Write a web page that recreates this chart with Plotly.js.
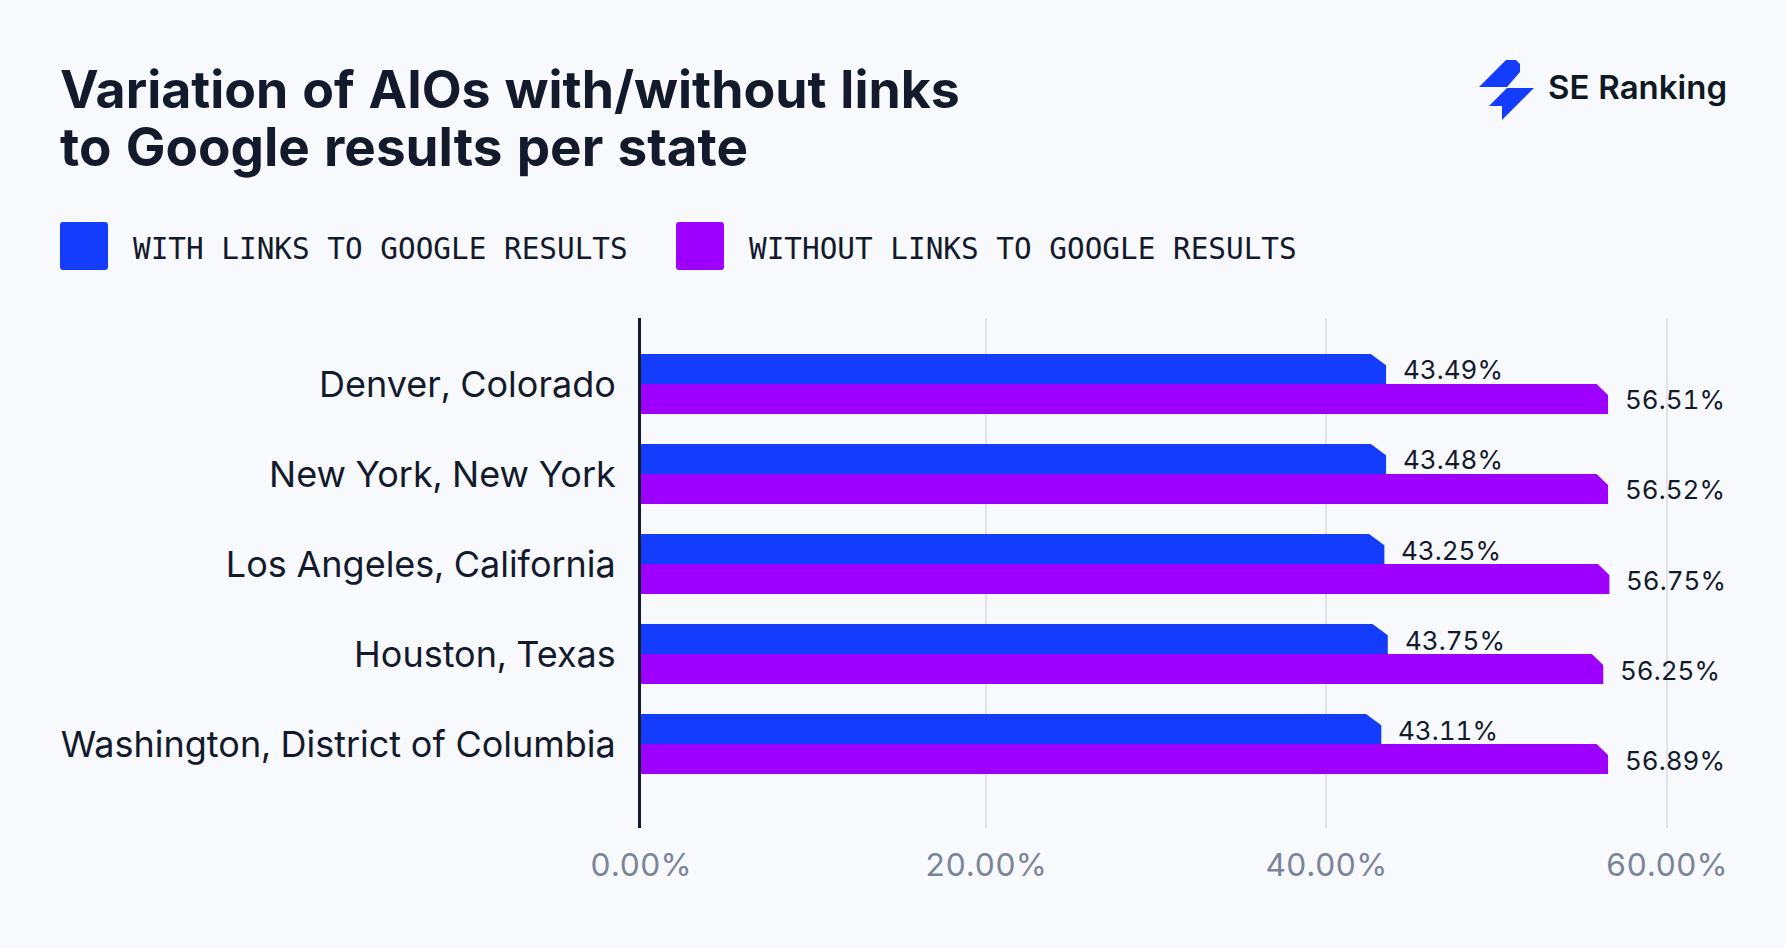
<!DOCTYPE html>
<html><head><meta charset="utf-8">
<script src="https://cdn.plot.ly/plotly-3.0.1.min.js"></script>
<style>html,body{margin:0;padding:0;background:#f7f9fd;overflow:hidden}
svg text{font-feature-settings:"tnum" 1;font-variant-numeric:tabular-nums}</style></head>
<body><div id="chart" style="width:1785px;height:948px"></div>
<script>
const categories = ["Denver, Colorado","New York, New York","Los Angeles, California","Houston, Texas","Washington, District of Columbia"];
// Percentages as printed next to the bars.
const withLinksLabels = [43.49,43.48,43.25,43.75,43.11];
const withoutLinksLabels = [56.51,56.52,56.75,56.25,56.89];
// Bar lengths: the source draws them slightly off their printed labels.
const withLinks = [43.51,43.51,43.41,43.61,43.23];
const withoutLinks = [56.55,56.55,56.63,56.27,56.55];
const tickVals = [-0.264,20,40,60];
const tickText = ["0.00%","20.00%","40.00%","60.00%"];
const BLUE="#143cfc", PURPLE="#9d00ff", BG="#f7f9fd", INK="#131a2b", FONT="Inter";
const W=1785,H=948,L=641,R=1670,T=318,B=828;
const px=x=>(x-L)/(R-L), py=y=>(B-y)/(B-T);
const P=(x,y)=>px(x).toFixed(5)+","+py(y).toFixed(5);
const shapes=[], annotations=[];
function poly(pts,color){
  const path=pts.map((p,i)=>(i?"L":"M")+P(p[0],p[1])).join(" ")+" Z";
  shapes.push({type:"path",xref:"paper",yref:"paper",path,fillcolor:color,line:{width:0},layer:"above"});
}
function swatch(x,color){
  const y=222,s=48,r=3;
  const path=`M${P(x+r,y)} L${P(x+s-r,y)} Q${P(x+s,y)} ${P(x+s,y+r)} L${P(x+s,y+s-r)} Q${P(x+s,y+s)} ${P(x+s-r,y+s)} L${P(x+r,y+s)} Q${P(x,y+s)} ${P(x,y+s-r)} L${P(x,y+r)} Q${P(x,y)} ${P(x+r,y)} Z`;
  shapes.push({type:"path",xref:"paper",yref:"paper",path,fillcolor:color,line:{width:0}});
}
function label(x,y,text,size,color,family,weight){
  annotations.push({xref:"paper",yref:"paper",x:px(x),y:py(y),text,showarrow:false,xanchor:"left",yanchor:"middle",
    font:{size,color,family,weight:weight||400},borderpad:0,borderwidth:0});
}
categories.forEach((c,i)=>{
  [[withLinks[i],withLinksLabels[i],30,0,BLUE,16],[withoutLinks[i],withoutLinksLabels[i],0,-30,PURPLE,12]].forEach(([v,t,top,bot,col,cw])=>{
    shapes.push({type:"path",xref:"x",yref:"y",xsizemode:"pixel",ysizemode:"pixel",xanchor:v,yanchor:i,
      path:`M ${-cw},${top+.5} L 1,${top+.5} L 1,${top-12} Z`,fillcolor:BG,line:{width:0},layer:"above"});
    shapes.push({type:"path",xref:"x",yref:"y",xsizemode:"pixel",ysizemode:"pixel",xanchor:0,yanchor:i,
      path:`M -4.5,${top} L 1,${top} L 1,${bot} L -4.5,${bot} Z`,fillcolor:col,line:{width:0},layer:"above"});
    annotations.push({xref:"x",yref:"y",x:v,y:i,xshift:16,yshift:(top+bot)/2-1,xanchor:"left",yanchor:"middle",showarrow:false,borderpad:0,
      text:t.toFixed(2)+"%",font:{size:26,color:INK,family:FONT}});
  });
});
swatch(60,BLUE); swatch(676,PURPLE);
label(133,249,"WITH LINKS TO GOOGLE RESULTS",29.35,INK,"DejaVu Sans Mono");
label(749,249,"WITHOUT LINKS TO GOOGLE RESULTS",29.35,INK,"DejaVu Sans Mono");
label(1548,87,"SE Ranking",33,"#0f1923",FONT,600);
label(60,147,"to Google results per state",53,INK,FONT,700);
poly([[1479,87],[1506,60],[1516,60],[1520,64],[1520,72],[1507,87]],BLUE);
poly([[1507,88],[1534,88],[1502,120],[1502,106],[1489,106]],BLUE);
const data=[
 {type:"bar",orientation:"h",name:"With links to Google results",y:categories,x:withLinks,marker:{color:BLUE,line:{width:0}},hoverinfo:"skip"},
 {type:"bar",orientation:"h",name:"Without links to Google results",y:categories,x:withoutLinks,marker:{color:PURPLE,line:{width:0}},hoverinfo:"skip"}
];
const layout={
 width:W,height:H,paper_bgcolor:BG,plot_bgcolor:BG,showlegend:false,barmode:"group",bargap:1/3,bargroupgap:0,
 margin:{l:L,r:W-R,t:T,b:H-B,pad:0},
 font:{family:FONT,color:INK},
 title:{text:"Variation of AIOs with/without links",x:60/W,xanchor:"left",xref:"container",y:1-90/H,yanchor:"middle",yref:"container",pad:{t:0,b:0,l:0,r:0},
   font:{size:51.8,family:FONT,weight:700,color:INK}},
 xaxis:{range:[-0.264,60.19],tickmode:"array",tickvals:tickVals,ticktext:tickText,showgrid:true,gridcolor:"#dfe3ec",gridwidth:2,zeroline:false,showline:false,ticks:"",
   tickfont:{size:31.7,color:"#7a8599",family:FONT},ticklabelstandoff:15,automargin:false},
 yaxis:{type:"category",categoryorder:"array",categoryarray:categories,range:[4.933,-0.733],showgrid:false,zeroline:false,showline:true,linecolor:INK,linewidth:3,ticks:"",
   tickfont:{size:36,color:INK,family:FONT},ticklabelstandoff:15,automargin:false},
 shapes,annotations
};
Plotly.newPlot("chart",data,layout,{displayModeBar:false,staticPlot:true});
</script></body></html>
